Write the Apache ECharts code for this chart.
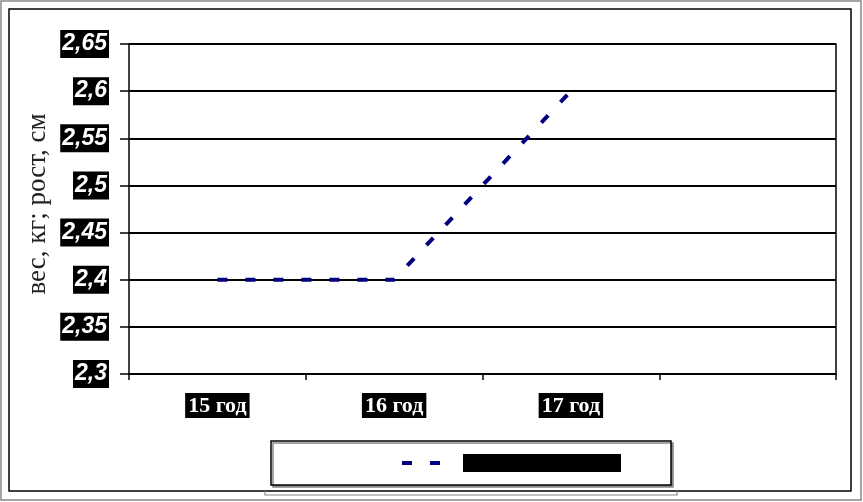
<!DOCTYPE html>
<html>
<head>
<meta charset="utf-8">
<script src="https://cdn.jsdelivr.net/npm/echarts@6/dist/echarts.min.js"></script>
<style>
html,body{margin:0;padding:0;background:#fff;}
#chart{width:863px;height:502px;}
</style>
</head>
<body>
<div id="chart"></div>
<script>
const categories = ['15 год', '16 год', '17 год', ''];
const seriesName = 'Ряд1';
const values = [2.4, 2.4, 2.6];
const yMin = 2.3;
const yMax = 2.65;
const yStep = 0.05;
const yAxisTitle = 'вес, кг; рост, см';

const chart = echarts.init(document.getElementById('chart'), null, {renderer: 'canvas'});

function fmt(v) {
  return (Math.round(v * 100) / 100).toString().replace('.', ',');
}

chart.setOption({
  animation: false,
  backgroundColor: '#fff',
  grid: {left: 129, right: 27, top: 44, bottom: 128, containLabel: false},
  xAxis: {
    type: 'category',
    data: categories,
    boundaryGap: true,
    axisLine: {show: true, lineStyle: {color: '#000', width: 1.5}},
    axisTick: {show: true, length: 6, alignWithLabel: false, lineStyle: {color: '#000', width: 1.5}},
    axisLabel: {
      show: true,
      margin: 19,
      formatter: function (v) { return v ? '{b|' + v + '}' : ''; },
      rich: {
        b: {
          fontFamily: '"Liberation Serif", "Times New Roman", serif',
          fontWeight: 'bold',
          fontSize: 22,
          color: '#fff',
          backgroundColor: '#000',
          padding: [2, 3, 1, 3]
        }
      }
    },
    splitLine: {show: false}
  },
  yAxis: [{
    type: 'value',
    min: yMin,
    max: yMax,
    interval: yStep,
    name: yAxisTitle,
    nameLocation: 'middle',
    nameGap: 78,
    nameMoveOverlap: false,
    nameTextStyle: {
      fontFamily: '"Liberation Serif", "Times New Roman", serif',
      fontSize: 27,
      color: '#222',
      padding: [0, 0, 0, 10]
    },
    axisLine: {show: true, lineStyle: {color: '#000', width: 1.5}},
    axisTick: {show: true, length: 9, lineStyle: {color: '#000', width: 1.5}},
    axisLabel: {
      margin: 20,
      fontFamily: '"Liberation Sans", Arial, sans-serif',
      fontWeight: 'bold',
      fontStyle: 'italic',
      fontSize: 23,
      color: '#fff',
      backgroundColor: '#000',
      padding: [3, 2, 2, 2],
      formatter: fmt
    },
    splitLine: {show: true, lineStyle: {color: '#000', width: 2}}
  }, {
    type: 'value',
    position: 'right',
    min: yMin,
    max: yMax,
    interval: yStep,
    axisLine: {show: true, lineStyle: {color: '#000', width: 1.5}},
    axisTick: {show: false},
    axisLabel: {show: false},
    splitLine: {show: false}
  }],
  legend: {
    show: true,
    left: 271,
    top: 441,
    orient: 'horizontal',
    padding: [13, 50, 13, 129],
    itemWidth: 56,
    itemHeight: 14,
    itemGap: 0,
    borderColor: '#000',
    borderWidth: 1.5,
    backgroundColor: '#fff',
    shadowColor: '#888',
    shadowBlur: 0,
    shadowOffsetX: 2,
    shadowOffsetY: 2,
    data: [seriesName],
    itemStyle: {opacity: 0},
    lineStyle: {color: '#000080', width: 4, type: [10, 18], opacity: 1},
    textStyle: {
      color: '#000',
      backgroundColor: '#000',
      width: 158,
      height: 18,
      fontSize: 14,
      padding: 0
    }
  },
  series: [{
    name: seriesName,
    type: 'line',
    data: values,
    symbol: 'none',
    showSymbol: false,
    lineStyle: {color: '#000080', width: 4, type: [10, 18]},
    itemStyle: {color: '#000080'}
  }],
  graphic: [
    {type: 'rect', shape: {x: 1, y: 1, width: 860, height: 499}, style: {fill: 'none', stroke: '#888', lineWidth: 1.5}, silent: true, z: 100},
    {type: 'rect', shape: {x: 9, y: 9, width: 842, height: 482}, style: {fill: 'none', stroke: '#000', lineWidth: 1.5}, silent: true, z: 100},
    {type: 'polyline', shape: {points: [[265, 491], [265, 495], [677, 495], [677, 491]]}, style: {fill: 'none', stroke: '#888', lineWidth: 1.2}, silent: true, z: 100}
  ]
});
</script>
</body>
</html>
